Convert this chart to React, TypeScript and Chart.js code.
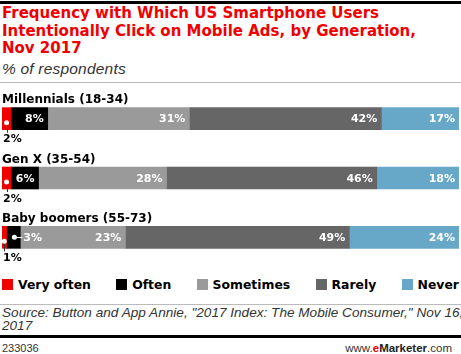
import React, { useEffect, useRef, useState } from "react";
import { Chart, registerables } from "chart.js";

Chart.register(...registerables);

const categories = ["Millennials (18-34)", "Gen X (35-54)", "Baby boomers (55-73)"];
const seriesNames = ["Very often", "Often", "Sometimes", "Rarely", "Never"];
const veryOften = [2, 2, 1];
const often = [8, 6, 3];
const sometimes = [31, 28, 23];
const rarely = [42, 46, 49];
const never = [17, 18, 24];
const colors = ["#f00000", "#000000", "#9a9a9a", "#666666", "#67a8c8"];

const CANVAS_TOP = 88;

type Lbl = { text: string; x: number; y: number; right?: boolean; color: string; size: number };

const pinPlugin = {
  id: "pins",
  afterDatasetsDraw(chart: any) {
    const ctx = chart.ctx as CanvasRenderingContext2D;
    ctx.save();
    chart.data.datasets.forEach((ds: any, di: number) => {
      const meta = chart.getDatasetMeta(di);
      meta.data.forEach((el: any, i: number) => {
        const v = ds.data[i];
        if (v >= 5) return;
        const p = el.getProps(["x", "base", "y", "height"], true);
        const x0 = Math.min(p.x, p.base);
        const x1 = Math.max(p.x, p.base);
        const bottom = p.y + p.height / 2;
        if (di === 0) {
          const cx = (x0 + x1) / 2;
          const cy = p.y + 4;
          ctx.strokeStyle = "#333";
          ctx.lineWidth = 1;
          ctx.beginPath();
          ctx.moveTo(Math.round(cx) + 0.5, cy);
          ctx.lineTo(Math.round(cx) + 0.5, bottom + 3);
          ctx.stroke();
          ctx.fillStyle = "#fff";
          ctx.beginPath();
          ctx.arc(cx, cy, 2.5, 0, Math.PI * 2);
          ctx.fill();
        } else {
          const cx = (x0 + x1) / 2 + 1;
          const cy = p.y;
          ctx.strokeStyle = "#fff";
          ctx.lineWidth = 1;
          ctx.beginPath();
          ctx.moveTo(cx, Math.round(cy) + 0.5);
          ctx.lineTo(x1 + 2, Math.round(cy) + 0.5);
          ctx.stroke();
          ctx.fillStyle = "#fff";
          ctx.beginPath();
          ctx.arc(cx, cy, 2.5, 0, Math.PI * 2);
          ctx.fill();
        }
      });
    });
    ctx.restore();
  },
};

function BarChart() {
  const ref = useRef<HTMLCanvasElement | null>(null);
  const [labels, setLabels] = useState<Lbl[]>([]);
  useEffect(() => {
    if (!ref.current) return;
    const values = [veryOften, often, sometimes, rarely, never];
    const chart = new Chart(ref.current, {
      type: "bar",
      data: {
        labels: categories,
        datasets: values.map((d, i) => ({
          label: seriesNames[i],
          data: d,
          backgroundColor: colors[i],
          borderWidth: 0,
          barThickness: 22,
        })),
      },
      options: {
        indexAxis: "y",
        responsive: false,
        animation: false,
        layout: { padding: { left: 2, right: 2, top: 1, bottom: 1 } },
        plugins: { legend: { display: false }, tooltip: { enabled: false }, title: { display: false } },
        scales: {
          x: { stacked: true, min: 0, max: 100, display: false },
          y: { stacked: true, display: false },
        },
      },
      plugins: [pinPlugin],
    } as any);
    const out: Lbl[] = [];
    const left = chart.chartArea.left;
    chart.getDatasetMeta(0).data.forEach((el: any, i: number) => {
      const p = el.getProps(["y", "height"], true);
      const baseline = CANVAS_TOP + p.y - p.height / 2 - 4;
      out.push({ text: categories[i], x: left, y: baseline - 10.2, color: "#000", size: 12 });
    });
    chart.data.datasets.forEach((ds: any, di: number) => {
      chart.getDatasetMeta(di).data.forEach((el: any, i: number) => {
        const v = ds.data[i];
        const p = el.getProps(["x", "base", "y", "height"], true);
        const x1 = Math.max(p.x, p.base);
        const cy = CANVAS_TOP + p.y;
        const bottom = CANVAS_TOP + p.y + p.height / 2;
        if (v >= 5) {
          out.push({ text: v + "%", x: x1 - 4, y: cy - 5.3, right: true, color: "#fff", size: 11 });
        } else if (di === 0) {
          out.push({ text: v + "%", x: left + 1, y: bottom + 3.7, color: "#000", size: 11 });
        } else {
          out.push({ text: v + "%", x: x1 + 3, y: cy - 5.3, color: "#fff", size: 11 });
        }
      });
    });
    setLabels(out);
    return () => chart.destroy();
  }, []);
  return (
    <>
      <canvas ref={ref} width={461} height={180} style={{ position: "absolute", left: 0, top: CANVAS_TOP }} />
      {labels.map((l, k) => (
        <div
          key={k}
          style={{
            position: "absolute",
            left: l.x,
            top: l.y,
            transform: l.right ? "translateX(-100%)" : undefined,
            fontFamily: "'DejaVu Sans', sans-serif",
            fontWeight: "bold",
            fontSize: l.size,
            lineHeight: l.size + "px",
            color: l.color,
            whiteSpace: "nowrap",
          }}
        >
          {l.text}
        </div>
      ))}
    </>
  );
}

export default function App() {
  useEffect(() => {
    document.body.style.margin = "0";
  }, []);
  const sans = "'Liberation Sans', Arial, sans-serif";
  const dejavu = "'DejaVu Sans', sans-serif";
  return (
    <div style={{ position: "relative", width: 461, height: 354, overflow: "hidden", fontFamily: sans, background: "#fff" }}>
      <div style={{ position: "absolute", left: 0, top: 1, width: 461, height: 3, background: "#000" }} />
      <div
        style={{
          position: "absolute",
          left: 2,
          top: 5,
          width: 459,
          color: "#f00000",
          fontFamily: dejavu,
          fontWeight: "bold",
          fontSize: 15,
          lineHeight: "17.5px",
          whiteSpace: "nowrap",
        }}
      >
        Frequency with Which US Smartphone Users
        <br />
        Intentionally Click on Mobile Ads, by Generation,
        <br />
        Nov 2017
      </div>
      <div
        style={{
          position: "absolute",
          left: 2,
          top: 60,
          fontStyle: "italic",
          fontSize: 15.5,
          letterSpacing: 0.2,
          color: "#333",
          whiteSpace: "nowrap",
        }}
      >
        % of respondents
      </div>
      <div style={{ position: "absolute", left: 0, top: 82, width: 461, height: 1, background: "#bbb" }} />
      <BarChart />
      <div
        style={{
          position: "absolute",
          left: 2,
          top: 278,
          width: 457,
          display: "flex",
          justifyContent: "space-between",
          alignItems: "center",
          fontFamily: dejavu,
          fontWeight: "bold",
          fontSize: 12.4,
          lineHeight: "13px",
        }}
      >
        {seriesNames.map((n, i) => (
          <div key={n} style={{ display: "flex", alignItems: "center" }}>
            <span style={{ display: "inline-block", width: 11, height: 11, background: colors[i], marginRight: 5 }} />
            <span>{n}</span>
          </div>
        ))}
      </div>
      <div style={{ position: "absolute", left: 0, top: 304, width: 461, height: 1, background: "#bbb" }} />
      <div
        style={{
          position: "absolute",
          left: 2,
          top: 306,
          fontStyle: "italic",
          fontSize: 13.6,
          lineHeight: "13px",
          color: "#333",
          whiteSpace: "nowrap",
        }}
      >
        Source: Button and App Annie, "2017 Index: The Mobile Consumer," Nov 16,
        <br />
        2017
      </div>
      <div style={{ position: "absolute", left: 0, top: 335, width: 461, height: 3, background: "#000" }} />
      <div style={{ position: "absolute", left: 2, top: 342, fontSize: 11, color: "#333" }}>233036</div>
      <div style={{ position: "absolute", right: 9, top: 342, fontSize: 11.5, color: "#333" }}>
        www.<span style={{ color: "#f00000", fontWeight: "bold" }}>e</span>
        <span style={{ fontWeight: "bold", color: "#222" }}>Marketer</span>.com
      </div>
    </div>
  );
}
